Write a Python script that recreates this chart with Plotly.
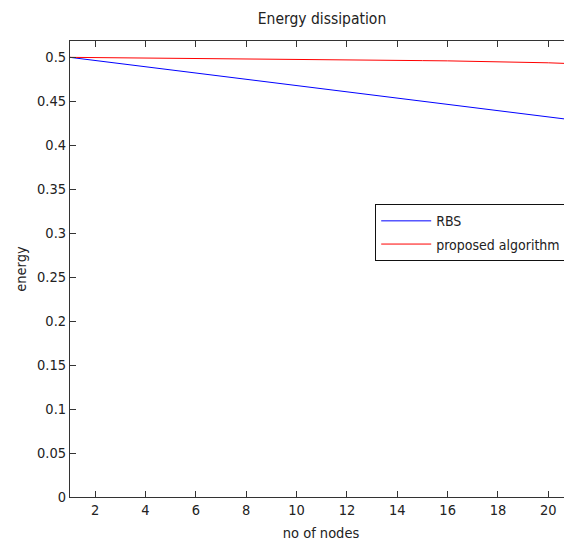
import plotly.graph_objects as go

nodes = list(range(1, 22))
rbs = [0.5, 0.4964, 0.4930, 0.4893, 0.4858, 0.4821, 0.4787, 0.4751, 0.4714, 0.4680, 0.4645,
       0.4607, 0.4573, 0.4537, 0.4500, 0.4466, 0.4430, 0.4393, 0.4359, 0.4322, 0.4287]
proposed = [0.5, 0.4998, 0.4995, 0.4992, 0.4988, 0.4985, 0.4982, 0.4979, 0.4977, 0.4975, 0.4974,
            0.4972, 0.4970, 0.4967, 0.4963, 0.4960, 0.4956, 0.4951, 0.4945, 0.4938, 0.4928]
x_ticks = [2, 4, 6, 8, 10, 12, 14, 16, 18, 20]
y_ticks = [0, 0.05, 0.1, 0.15, 0.2, 0.25, 0.3, 0.35, 0.4, 0.45, 0.5]
y_tick_labels = ["0", "0.05", "0.1", "0.15", "0.2", "0.25", "0.3", "0.35", "0.4", "0.45", "0.5"]

FONT = "DejaVu Sans Condensed, Liberation Sans Narrow, Arial Narrow, Liberation Sans, Arial"
TXT = "#222222"
AX = "#333333"

fig = go.Figure()
fig.add_trace(go.Scatter(x=nodes, y=rbs, mode="lines", name="RBS", legendgroup="a",
                         line=dict(color="#0000ff", width=1)))
fig.add_trace(go.Scatter(x=nodes, y=proposed, mode="lines", name="proposed algorithm",
                         legendgroup="b", line=dict(color="#ff0000", width=1)))

axis_common = dict(showgrid=False, zeroline=False, showline=True, linecolor=AX,
                   linewidth=1, mirror="ticks", ticks="inside", ticklen=6,
                   tickcolor=AX, automargin=False,
                   tickfont=dict(family=FONT, size=14.5, color=TXT))

# page has an 8px body margin: figure spans page x 8..572, y 8..542
fig.update_layout(
    width=564, height=534,
    margin=dict(l=61.5, r=0, t=33, b=45.3, autoexpand=False),
    paper_bgcolor="white", plot_bgcolor="white",
    title=dict(text="Energy dissipation", x=314 / 564, xanchor="center",
               y=1 - 11 / 534, yanchor="middle",
               font=dict(family=FONT, size=15.5, color=TXT)),
    xaxis=dict(range=[1, 20.94], tickvals=x_ticks,
               title=dict(text="no of nodes", font=dict(family=FONT, size=14.5, color=TXT),
                          standoff=10),
               **axis_common),
    yaxis=dict(range=[0, 0.5186], tickvals=y_ticks, ticktext=y_tick_labels,
               title=dict(text="energy", font=dict(family=FONT, size=14.5, color=TXT),
                          standoff=6),
               **axis_common),
    legend=dict(x=0.608, y=0.642, xanchor="left", yanchor="top",
                bgcolor="white", bordercolor="#111111", borderwidth=1,
                font=dict(family=FONT, size=14, color=TXT),
                tracegroupgap=2, itemwidth=50),
    showlegend=True,
)

fig.write_html("out.html")
